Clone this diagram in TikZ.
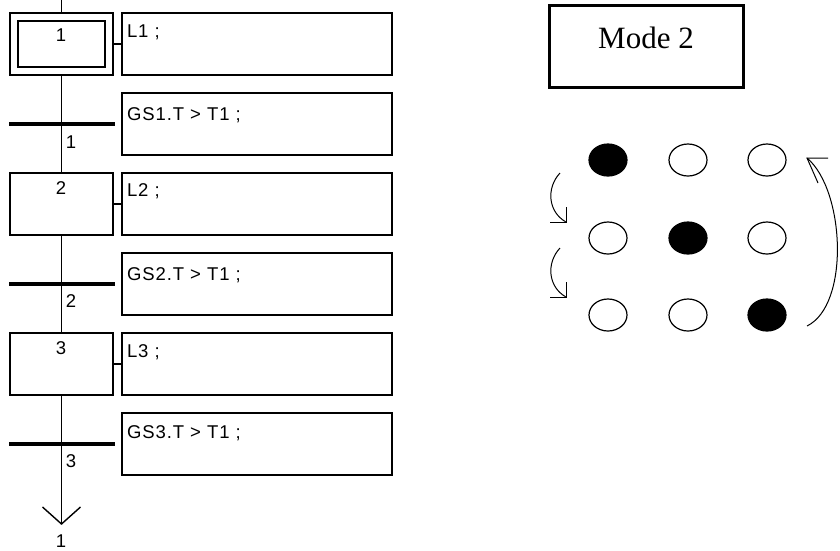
\documentclass[tikz,border=0pt]{standalone}
\usepackage{fontspec}
\setmainfont{Liberation Serif}
\newfontfamily\chartfont{Liberation Sans}[LetterSpace=5]
\usetikzlibrary{shapes.geometric}
\begin{document}
\begin{tikzpicture}[x=1pt,y=-1pt,
 every node/.style={inner sep=0pt, outer sep=0pt},
 stepbox/.style={draw, line width=1.4pt, minimum width=103pt, minimum height=62pt},
 innerbox/.style={draw, line width=1.4pt, minimum width=87pt, minimum height=46pt},
 actbox/.style={draw, line width=1.4pt, minimum width=270pt, minimum height=62pt},
 trbar/.style={fill=black, minimum width=106pt, minimum height=4pt},
 ctext/.style={font=\chartfont\fontsize{18.5}{21}\selectfont},
 lnk/.style={line width=1.4pt},
 dot/.style={ellipse, draw, line width=1.2pt, minimum width=38pt, minimum height=32pt},
 full/.style={dot, fill=black},
 curv/.style={line width=1pt}]
\useasboundingbox (0,0) rectangle (840,550);
% ---- Grafcet ----
\coordinate (top) at (61.5,0);
\node[stepbox] (s1) at (61.5,44) {};
\node[innerbox] (s1i) at (61.5,44) {};
\node[stepbox] (s2) at (61.5,204) {};
\node[stepbox] (s3) at (61.5,364) {};
\node[actbox] (a1) at (257,44) {};
\node[actbox] (c1) at (257,124) {};
\node[actbox] (a2) at (257,204) {};
\node[actbox] (c2) at (257,284) {};
\node[actbox] (a3) at (257,364) {};
\node[actbox] (c3) at (257,444) {};
\node[trbar] (t1) at (62,124) {};
\node[trbar] (t2) at (62,284) {};
\node[trbar] (t3) at (62,444) {};
\coordinate (end) at (61.5,524);
\draw[lnk] (top) -- (s1.north);
\draw[lnk] (s1.south) -- (s2.north);
\draw[lnk] (s2.south) -- (s3.north);
\draw[lnk] (s3.south) -- (end);
\draw[lnk] ([shift={(-19,-17)}]end) -- (end) -- ([shift={(19,-17)}]end);
\draw[lnk] (s1.east) -- (a1.west);
\draw[lnk] (s2.east) -- (a2.west);
\draw[lnk] (s3.east) -- (a3.west);
% texts
\node[ctext, anchor=base] (n1) at (61,41.5) {1};
\node[ctext, anchor=base] (n2) at (61,194) {2};
\node[ctext, anchor=base] (n3) at (61,354) {3};
\node[ctext, anchor=base west] (l1) at (127,37) {L1 ;};
\node[ctext, anchor=base west] (l2) at (127,196) {L2 ;};
\node[ctext, anchor=base west] (l3) at (127,357) {L3 ;};
\node[ctext, anchor=base west] (g1) at (127,120) {GS1.T > T1 ;};
\node[ctext, anchor=base west] (g2) at (127,280) {GS2.T > T1 ;};
\node[ctext, anchor=base west] (g3) at (127,438) {GS3.T > T1 ;};
\node[ctext, anchor=base] (m1) at (71,148) {1};
\node[ctext, anchor=base] (m2) at (71,307) {2};
\node[ctext, anchor=base] (m3) at (71,467) {3};
\node[ctext, anchor=base] (back) at (61,547) {1};
% ---- Mode 2 ----
\node[draw, line width=3pt, minimum width=194pt, minimum height=82pt] (mode) at (646,46) {};
\node[anchor=base, font=\fontsize{31}{34}\selectfont] (modet) at (646,48) {Mode 2};
% ---- dots ----
\node[full] (d11) at (608,160) {};
\node[dot]  (d12) at (688,160) {};
\node[dot]  (d13) at (767,160) {};
\node[dot]  (d21) at (608,238) {};
\node[full] (d22) at (688,238) {};
\node[dot]  (d23) at (767,238) {};
\node[dot]  (d31) at (608,315) {};
\node[dot]  (d32) at (688,315) {};
\node[full] (d33) at (767,315) {};
% ---- arrows ----
\coordinate (a1s) at (560,173);
\coordinate (a1e) at (566,222);
\coordinate (a2s) at (560,248);
\coordinate (a2e) at (566,297);
\coordinate (bs) at (807,326);
\coordinate (be) at (807,158);
\draw[curv] (a1s) .. controls (546,188) and (548,212) .. (a1e);
\draw[curv] ([shift={(-16,0)}]a1e) -- (a1e) -- ([shift={(0,-15)}]a1e);
\draw[curv] (a2s) .. controls (546,263) and (548,287) .. (a2e);
\draw[curv] ([shift={(-16,0)}]a2e) -- (a2e) -- ([shift={(0,-15)}]a2e);
\draw[curv] (bs) .. controls (850,305) and (845,190) .. (be);
\draw[curv] ([shift={(21,0)}]be) -- (be) -- ([shift={(11,25)}]be);
\end{tikzpicture}
\end{document}
